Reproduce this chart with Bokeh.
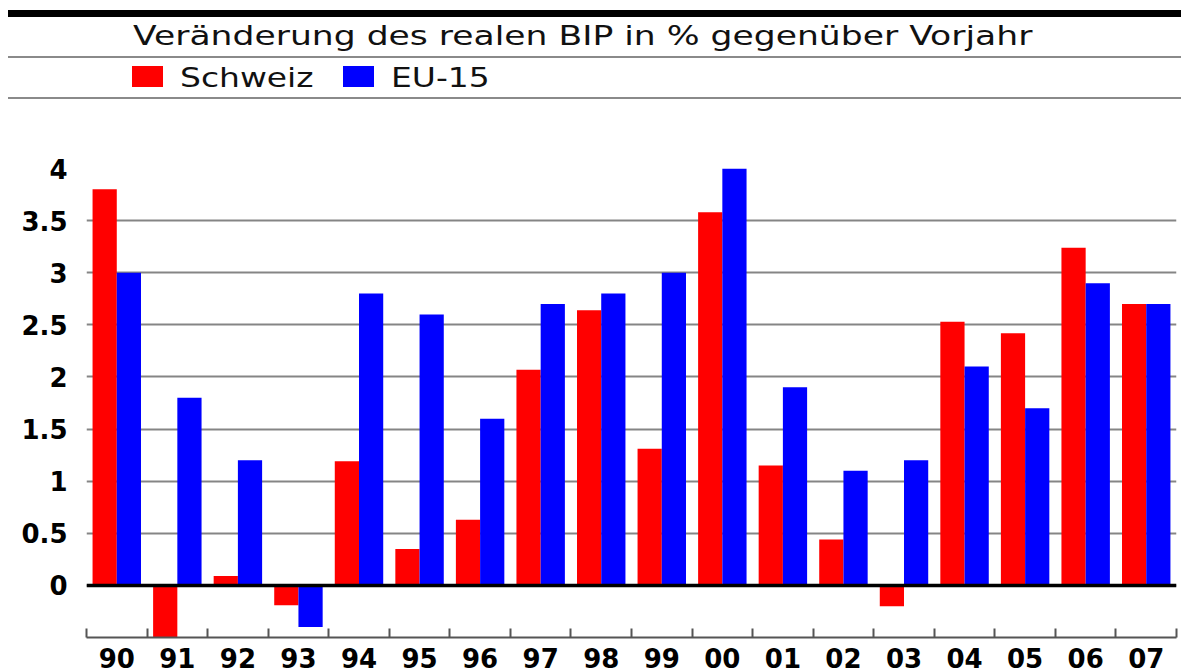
from bokeh.plotting import figure
from bokeh.layouts import column
from bokeh.models import Range1d, FixedTicker, CustomJSTickFormatter, Span, Div
from bokeh.embed import file_html
from bokeh.resources import INLINE

# ---------------- data ----------------
title_text = "Veränderung des realen BIP in % gegenüber Vorjahr"
series_names = ["Schweiz", "EU-15"]
series_colors = ["#ff0000", "#0000ff"]
years = ["90", "91", "92", "93", "94", "95", "96", "97", "98", "99",
         "00", "01", "02", "03", "04", "05", "06", "07"]
schweiz = [3.8, -0.5, 0.09, -0.19, 1.19, 0.35, 0.63, 2.07, 2.64, 1.31,
           3.58, 1.15, 0.44, -0.2, 2.53, 2.42, 3.24, 2.7]
eu15 = [3.0, 1.8, 1.2, -0.4, 2.8, 2.6, 1.6, 2.7, 2.8, 3.0,
        4.0, 1.9, 1.1, 1.2, 2.1, 1.7, 2.9, 2.7]
yticks = [0, 0.5, 1, 1.5, 2, 2.5, 3, 3.5, 4]
y_min, y_max = -0.5, 4.0

FONT = "DejaVu Sans"
W = 1181
HDR_H = 100

# ---------------- header (title + legend) as HTML ----------------
def txt(s, left, top, scale):
    return ('<div style="position:absolute;left:%dpx;top:%.1fpx;font-family:\'DejaVu Sans\';'
            'font-size:27px;line-height:27px;color:#111;white-space:nowrap;'
            'transform:scaleX(%.2f);transform-origin:0 0;">%s</div>' % (left, top, scale, s))

def bar(left, top, width, height, color):
    return ('<div style="position:absolute;left:%dpx;top:%.1fpx;width:%dpx;height:%.1fpx;'
            'background:%s;"></div>' % (left, top, width, height, color))

html = ['<div style="position:relative;width:%dpx;height:%dpx;overflow:hidden;">' % (W, HDR_H)]
html.append(bar(8, 10, W - 8, 6.5, "#000"))
html.append(txt(title_text, 133, 21.5, 1.28))
html.append(bar(8, 56, W - 8, 2, "#8a8a8a"))
legend_x = [(132, 180), (343, 391)]
for (sx, tx), name, col in zip(legend_x, series_names, series_colors):
    html.append(bar(sx, 66, 31, 21, col))
    html.append(txt(name, tx, 64, 1.22))
html.append(bar(8, 96.5, W - 8, 2, "#8a8a8a"))
html.append('</div>')
header = Div(text="".join(html), width=W, height=HDR_H, margin=0)

# ---------------- main chart ----------------
n = len(years)
p = figure(width=W, height=672 - HDR_H, x_range=Range1d(0, n), y_range=Range1d(y_min, y_max),
           toolbar_location=None, output_backend="svg", margin=0,
           min_border_left=86, min_border_right=5, min_border_top=68, min_border_bottom=35)
p.outline_line_color = None
p.xgrid.visible = False

centers = [i + 0.5 for i in range(n)]
p.vbar(x=[c - 0.2 for c in centers], width=0.4, top=schweiz, bottom=0,
       fill_color=series_colors[0], line_color=None)
p.vbar(x=[c + 0.2 for c in centers], width=0.4, top=eu15, bottom=0,
       fill_color=series_colors[1], line_color=None)

# y axis
p.yaxis.ticker = FixedTicker(ticks=yticks)
p.yaxis.formatter = CustomJSTickFormatter(code="return String(tick);")
p.yaxis.axis_line_color = None
p.yaxis.major_tick_line_color = None
p.yaxis.minor_tick_line_color = None
p.yaxis.major_label_text_font = FONT
p.yaxis.major_label_text_font_style = "bold"
p.yaxis.major_label_text_font_size = "26px"
p.yaxis.major_label_text_color = "black"
p.yaxis.major_label_standoff = 13
p.ygrid.ticker = FixedTicker(ticks=yticks)
p.ygrid.grid_line_color = "#858585"
p.ygrid.grid_line_width = 2

p.add_layout(Span(location=0, dimension="width", line_color="black", line_width=3.5))

# x axis: labels at category centres, ticks at category borders
p.xaxis.ticker = FixedTicker(ticks=centers, minor_ticks=list(range(n + 1)))
p.xaxis.formatter = CustomJSTickFormatter(args=dict(labels=years),
                                          code="return labels[Math.floor(tick)];")
p.xaxis.major_tick_in = 0
p.xaxis.major_tick_out = 0
p.xaxis.minor_tick_in = 9
p.xaxis.minor_tick_out = 0
p.xaxis.minor_tick_line_color = "#555555"
p.xaxis.minor_tick_line_width = 2
p.xaxis.axis_line_color = "#555555"
p.xaxis.axis_line_width = 2
p.xaxis.major_label_text_font = FONT
p.xaxis.major_label_text_font_style = "bold"
p.xaxis.major_label_text_font_size = "26px"
p.xaxis.major_label_text_color = "black"
p.xaxis.major_label_standoff = 10

layout = column(header, p, spacing=0, margin=0)
open("out.html", "w").write(file_html(layout, INLINE))
